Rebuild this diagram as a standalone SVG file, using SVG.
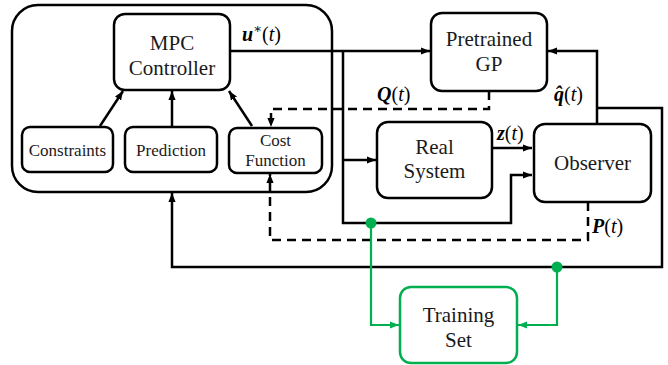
<svg xmlns="http://www.w3.org/2000/svg" width="668" height="365" viewBox="0 0 668 365">
<style>
.box{fill:#fff;stroke:#000;stroke-width:2.5}
.gbox{fill:#fff;stroke:#00b050;stroke-width:2.5}
text{font-family:'Liberation Serif','DejaVu Serif','Times New Roman',serif;fill:#1a1a1a}
.big{font-size:21px;text-anchor:middle}
.sm{font-size:17px;text-anchor:middle}
.m{font-size:20px;fill:#000}
.bi{font-weight:bold;font-style:italic}
.c{fill:none;stroke:#000;stroke-width:2.5}
.d{fill:none;stroke:#000;stroke-width:2.5;stroke-dasharray:9 6}
.g{fill:none;stroke:#00b050;stroke-width:2.2}
</style>
<defs>
<marker id="ah" viewBox="0 0 10 10" refX="10" refY="5" markerWidth="9" markerHeight="9" markerUnits="userSpaceOnUse" orient="auto"><path d="M0,1 L10,5 L0,9 Z" fill="#000"/></marker>
<marker id="gh" viewBox="0 0 10 10" refX="10" refY="5" markerWidth="9" markerHeight="9" markerUnits="userSpaceOnUse" orient="auto"><path d="M0,1 L10,5 L0,9 Z" fill="#00b050"/></marker>
</defs>
<g id="mpc-block"><rect x="12" y="5" width="320" height="187" rx="26" class="box"/></g>
<g id="mpc"><rect x="114" y="14" width="116" height="76" rx="11" class="box"/><text x="172" y="50" class="big">MPC</text><text x="172" y="75" class="big">Controller</text></g>
<g id="constraints"><rect x="22" y="127" width="91" height="45" rx="8" class="box"/><text x="67.5" y="155.5" class="sm">Constraints</text></g>
<g id="prediction"><rect x="125" y="127" width="92" height="45" rx="8" class="box"/><text x="171" y="155.5" class="sm">Prediction</text></g>
<g id="cost"><rect x="229" y="128" width="93" height="45" rx="8" class="box"/><text x="275.5" y="146" class="sm">Cost</text><text x="275.5" y="166" class="sm">Function</text></g>
<g id="gp"><rect x="431" y="13" width="116" height="78" rx="11" class="box"/><text x="489" y="46" class="big">Pretrained</text><text x="489" y="71" class="big">GP</text></g>
<g id="real"><rect x="377" y="122" width="115" height="76" rx="11" class="box"/><text x="434.5" y="154" class="big">Real</text><text x="434.5" y="178" class="big">System</text></g>
<g id="observer"><rect x="534" y="124" width="117" height="78" rx="11" class="box"/><text x="592.5" y="170" class="big">Observer</text></g>
<g id="training"><rect x="400" y="287" width="117" height="76" rx="11" class="gbox"/><text x="458.5" y="322" class="big">Training</text><text x="458.5" y="347" class="big">Set</text></g>
<g id="connectors">
<path d="M100,126 L123,91" class="c" marker-end="url(#ah)"/>
<path d="M172,126 V91" class="c" marker-end="url(#ah)"/>
<path d="M252,126 L229,91" class="c" marker-end="url(#ah)"/>
<path d="M230,51 H430" class="c" marker-end="url(#ah)"/>
<path d="M343,51 V223 H511 V175 H532" class="c" marker-end="url(#ah)"/>
<path d="M343,160 H376" class="c" marker-end="url(#ah)"/>
<path d="M492,148 H532" class="c" marker-end="url(#ah)"/>
<path d="M597,124 V51 H548" class="c" marker-end="url(#ah)"/>
<path d="M597,108 H662 V267 H172 V193" class="c" marker-end="url(#ah)"/>
<path d="M489,91 V109 H271 V127" class="d" marker-end="url(#ah)"/>
<path d="M588,202 V240 H270 V174" class="d" marker-end="url(#ah)"/>
<path d="M371,223 V325 H399" class="g" marker-end="url(#gh)"/>
<path d="M557,267 V325 H518" class="g" marker-end="url(#gh)"/>
<circle cx="371" cy="223" r="5.5" fill="#00b050"/>
<circle cx="557" cy="267" r="5.5" fill="#00b050"/>
</g>
<g id="labels">
<text x="242" y="41" class="m"><tspan class="bi">u</tspan><tspan font-size="13" dy="-8">∗</tspan><tspan dy="8">(</tspan><tspan font-style="italic">t</tspan>)</text>
<text x="377" y="101" class="m"><tspan class="bi">Q</tspan>(<tspan font-style="italic">t</tspan>)</text>
<text x="554" y="101" class="m"><tspan class="bi">q̂</tspan>(<tspan font-style="italic">t</tspan>)</text>
<text x="497" y="140" class="m"><tspan class="bi">z</tspan>(<tspan font-style="italic">t</tspan>)</text>
<text x="592" y="233" class="m"><tspan class="bi">P</tspan>(<tspan font-style="italic">t</tspan>)</text>
</g>
</svg>
